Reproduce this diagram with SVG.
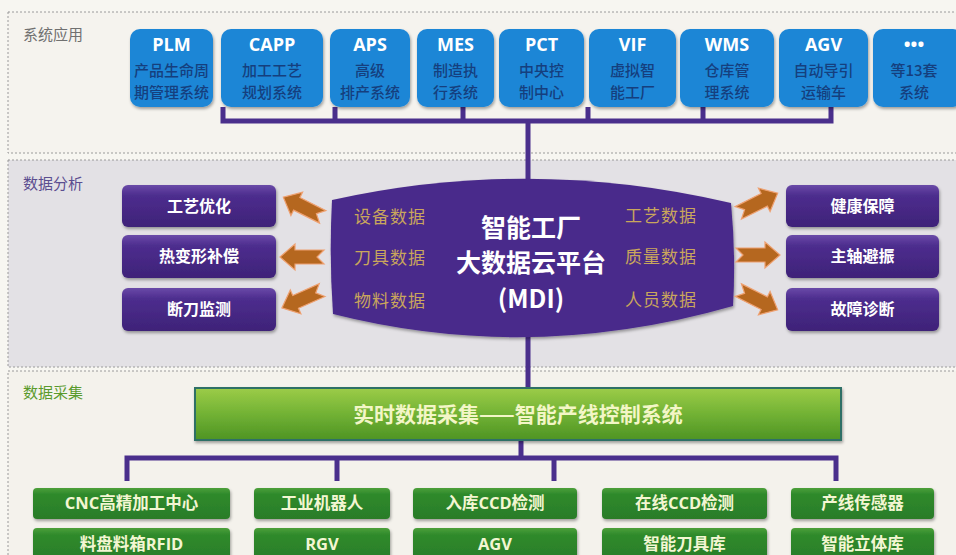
<svg xmlns="http://www.w3.org/2000/svg" width="956" height="555" viewBox="0 0 956 555">
<defs>
<filter id="sh" x="-10%" y="-10%" width="130%" height="140%"><feDropShadow dx="1" dy="2" stdDeviation="1.5" flood-color="#000" flood-opacity="0.35"/></filter>
<linearGradient id="pg" x1="0" y1="0" x2="0" y2="1"><stop offset="0" stop-color="#6a4aa8"/><stop offset="0.25" stop-color="#4d2d8e"/><stop offset="1" stop-color="#3e2278"/></linearGradient>
<linearGradient id="gg" x1="0" y1="0" x2="0" y2="1"><stop offset="0" stop-color="#9ccc48"/><stop offset="0.5" stop-color="#72b234"/><stop offset="1" stop-color="#4e9424"/></linearGradient>
<linearGradient id="dg" x1="0" y1="0" x2="0" y2="1"><stop offset="0" stop-color="#4da03a"/><stop offset="0.2" stop-color="#2f8a2c"/><stop offset="1" stop-color="#2a7c28"/></linearGradient>
<path id="arr" d="M-22,-7 L7,-7 L7,-13 L22,0 L7,13 L7,7 L-22,7 L-15,0 Z"/>
</defs>
<style>
.sec{stroke:#9a9a9a;stroke-width:1;stroke-dasharray:2 2}
.lbl{font-family:"Noto Sans CJK SC","Noto Sans",sans-serif;font-size:15px}
.blue{fill:#1f86d6;filter:url(#sh)}
.bt{font-family:"Open Sans","Noto Sans CJK SC",sans-serif;font-weight:bold;font-size:18px;fill:#fff;text-anchor:middle}
.bs{font-family:"Noto Sans CJK SC",sans-serif;font-weight:500;font-size:15px;fill:#153f7e;text-anchor:middle}
.pb{fill:url(#pg);filter:url(#sh)}
.pt{font-family:"Noto Sans CJK SC",sans-serif;font-weight:bold;font-size:16px;fill:#fff;text-anchor:middle}
.dt{font-family:"Noto Sans CJK SC",serif;font-size:17px;fill:#c9a65c;text-anchor:middle;letter-spacing:1px}
.ct{font-family:"Noto Sans CJK SC","Open Sans",sans-serif;font-weight:bold;font-size:25px;fill:#fff;text-anchor:middle}
.ar{fill:#b5671f;stroke:#eea070;stroke-width:1.2}
.gb{fill:url(#dg);filter:url(#sh)}
.gt{font-family:"Open Sans","Noto Sans CJK SC",sans-serif;font-weight:bold;font-size:16.5px;fill:#f3f6d2;text-anchor:middle}
.ln{stroke:#4a2f8c;stroke-width:5;fill:none}
</style>
<rect width="956" height="555" fill="#f7f6f1"/>
<rect class="sec" x="8" y="12" width="960" height="141" fill="#f5f3ee"/>
<rect class="sec" x="8" y="160" width="960" height="207" fill="#e3e1e5"/>
<rect class="sec" x="8" y="371" width="960" height="200" fill="#f4f2ec"/>
<text class="lbl" x="23" y="40" fill="#707070">系统应用</text>
<text class="lbl" x="23" y="189" fill="#5b4e90">数据分析</text>
<text class="lbl" x="23" y="398" fill="#5a9a2c">数据采集</text>

<g id="connectors">
<path class="ln" d="M223,107 V121 H831 V107 M335,107 V121 M463,107 V121 M588,107 V121 M703,107 V121"/>
<path class="ln" d="M528,121 V180 M528,330 V389"/>
<path class="ln" d="M521,440 V458 M127,481 V458 H836 V481 M337,458 V481 M554,458 V481"/>
</g>

<g id="plm"><rect class="blue" x="130" y="29" width="83" height="78" rx="10"/><text class="bt" x="171.5" y="51">PLM</text><text class="bs" x="171.5" y="76">产品生命周</text><text class="bs" x="171.5" y="98">期管理系统</text></g>
<g id="capp"><rect class="blue" x="221" y="29" width="102" height="78" rx="10"/><text class="bt" x="272" y="51">CAPP</text><text class="bs" x="272" y="76">加工工艺</text><text class="bs" x="272" y="98">规划系统</text></g>
<g id="aps"><rect class="blue" x="330" y="29" width="80" height="78" rx="10"/><text class="bt" x="370" y="51">APS</text><text class="bs" x="370" y="76">高级</text><text class="bs" x="370" y="98">排产系统</text></g>
<g id="mes"><rect class="blue" x="417" y="29" width="77" height="78" rx="10"/><text class="bt" x="455.5" y="51">MES</text><text class="bs" x="455.5" y="76">制造执</text><text class="bs" x="455.5" y="98">行系统</text></g>
<g id="pct"><rect class="blue" x="499" y="29" width="85" height="78" rx="10"/><text class="bt" x="541.5" y="51">PCT</text><text class="bs" x="541.5" y="76">中央控</text><text class="bs" x="541.5" y="98">制中心</text></g>
<g id="vif"><rect class="blue" x="589" y="29" width="87" height="78" rx="10"/><text class="bt" x="632.5" y="51">VIF</text><text class="bs" x="632.5" y="76">虚拟智</text><text class="bs" x="632.5" y="98">能工厂</text></g>
<g id="wms"><rect class="blue" x="680" y="29" width="94" height="78" rx="10"/><text class="bt" x="727" y="51">WMS</text><text class="bs" x="727" y="76">仓库管</text><text class="bs" x="727" y="98">理系统</text></g>
<g id="agv"><rect class="blue" x="779" y="29" width="89" height="78" rx="10"/><text class="bt" x="823.5" y="51">AGV</text><text class="bs" x="823.5" y="76">自动导引</text><text class="bs" x="823.5" y="98">运输车</text></g>
<g id="more"><rect class="blue" x="873" y="29" width="90" height="78" rx="10"/><text class="bt" x="914" y="51">•••</text><text class="bs" x="914" y="76">等13套</text><text class="bs" x="914" y="98">系统</text></g>

<g id="mdi">
<path d="M332,200 Q531,156 731,203 Q736,255 733,306 Q531,364 333,314 Q329,257 332,200 Z" fill="#4a2b8b" filter="url(#sh)"/>
<text class="dt" x="390" y="223">设备数据</text>
<text class="dt" x="390" y="264">刀具数据</text>
<text class="dt" x="390" y="307">物料数据</text>
<text class="dt" x="661" y="222">工艺数据</text>
<text class="dt" x="661" y="263">质量数据</text>
<text class="dt" x="661" y="306">人员数据</text>
<text class="ct" x="531" y="237">智能工厂</text>
<text class="ct" x="531" y="272">大数据云平台</text>
<text class="ct" x="531" y="308">(MDI)</text>
</g>

<g id="arrows">
<use href="#arr" class="ar" transform="translate(303,207) rotate(206.6)"/>
<use href="#arr" class="ar" transform="translate(302,257) rotate(180)"/>
<use href="#arr" class="ar" transform="translate(302,299) rotate(156)"/>
<use href="#arr" class="ar" transform="translate(758,203) rotate(-26.6)"/>
<use href="#arr" class="ar" transform="translate(758,255)"/>
<use href="#arr" class="ar" transform="translate(758,300) rotate(26.6)"/>
</g>

<g id="gyyh"><rect class="pb" x="122" y="185" width="154" height="42" rx="6"/><text class="pt" x="199" y="212">工艺优化</text></g>
<g id="rbxbc"><rect class="pb" x="122" y="235" width="154" height="43" rx="6"/><text class="pt" x="199" y="262">热变形补偿</text></g>
<g id="ddjc"><rect class="pb" x="122" y="288" width="154" height="43" rx="6"/><text class="pt" x="199" y="315">断刀监测</text></g>
<g id="jkbz"><rect class="pb" x="786" y="185" width="153" height="42" rx="6"/><text class="pt" x="862.5" y="212">健康保障</text></g>
<g id="zzbz"><rect class="pb" x="786" y="235" width="153" height="43" rx="6"/><text class="pt" x="862.5" y="262">主轴避振</text></g>
<g id="gzzd"><rect class="pb" x="786" y="288" width="153" height="43" rx="6"/><text class="pt" x="862.5" y="315">故障诊断</text></g>

<g id="bar"><rect x="195" y="388" width="646" height="52" fill="url(#gg)" stroke="#2e6f66" stroke-width="2" filter="url(#sh)"/><text x="518" y="422" font-family="Noto Sans CJK SC,sans-serif" font-weight="bold" font-size="21" fill="#f3f6c6" text-anchor="middle">实时数据采集——智能产线控制系统</text></g>

<g id="cnc"><rect class="gb" x="33" y="488" width="197" height="31" rx="4"/><text class="gt" x="131.5" y="509">CNC高精加工中心</text></g>
<g id="robot"><rect class="gb" x="254" y="488" width="136" height="31" rx="4"/><text class="gt" x="322" y="509">工业机器人</text></g>
<g id="ccdin"><rect class="gb" x="413" y="488" width="164" height="31" rx="4"/><text class="gt" x="495" y="509">入库CCD检测</text></g>
<g id="ccdon"><rect class="gb" x="602" y="488" width="165" height="31" rx="4"/><text class="gt" x="684.5" y="509">在线CCD检测</text></g>
<g id="sensor"><rect class="gb" x="791" y="488" width="143" height="31" rx="4"/><text class="gt" x="862.5" y="509">产线传感器</text></g>
<g id="rfid"><rect class="gb" x="33" y="528" width="197" height="34" rx="4"/><text class="gt" x="131.5" y="550">料盘料箱RFID</text></g>
<g id="rgv"><rect class="gb" x="254" y="528" width="136" height="34" rx="4"/><text class="gt" x="322" y="550">RGV</text></g>
<g id="agv2"><rect class="gb" x="413" y="528" width="164" height="34" rx="4"/><text class="gt" x="495" y="550">AGV</text></g>
<g id="tool"><rect class="gb" x="602" y="528" width="165" height="34" rx="4"/><text class="gt" x="684.5" y="550">智能刀具库</text></g>
<g id="store"><rect class="gb" x="791" y="528" width="143" height="34" rx="4"/><text class="gt" x="862.5" y="550">智能立体库</text></g>
</svg>
